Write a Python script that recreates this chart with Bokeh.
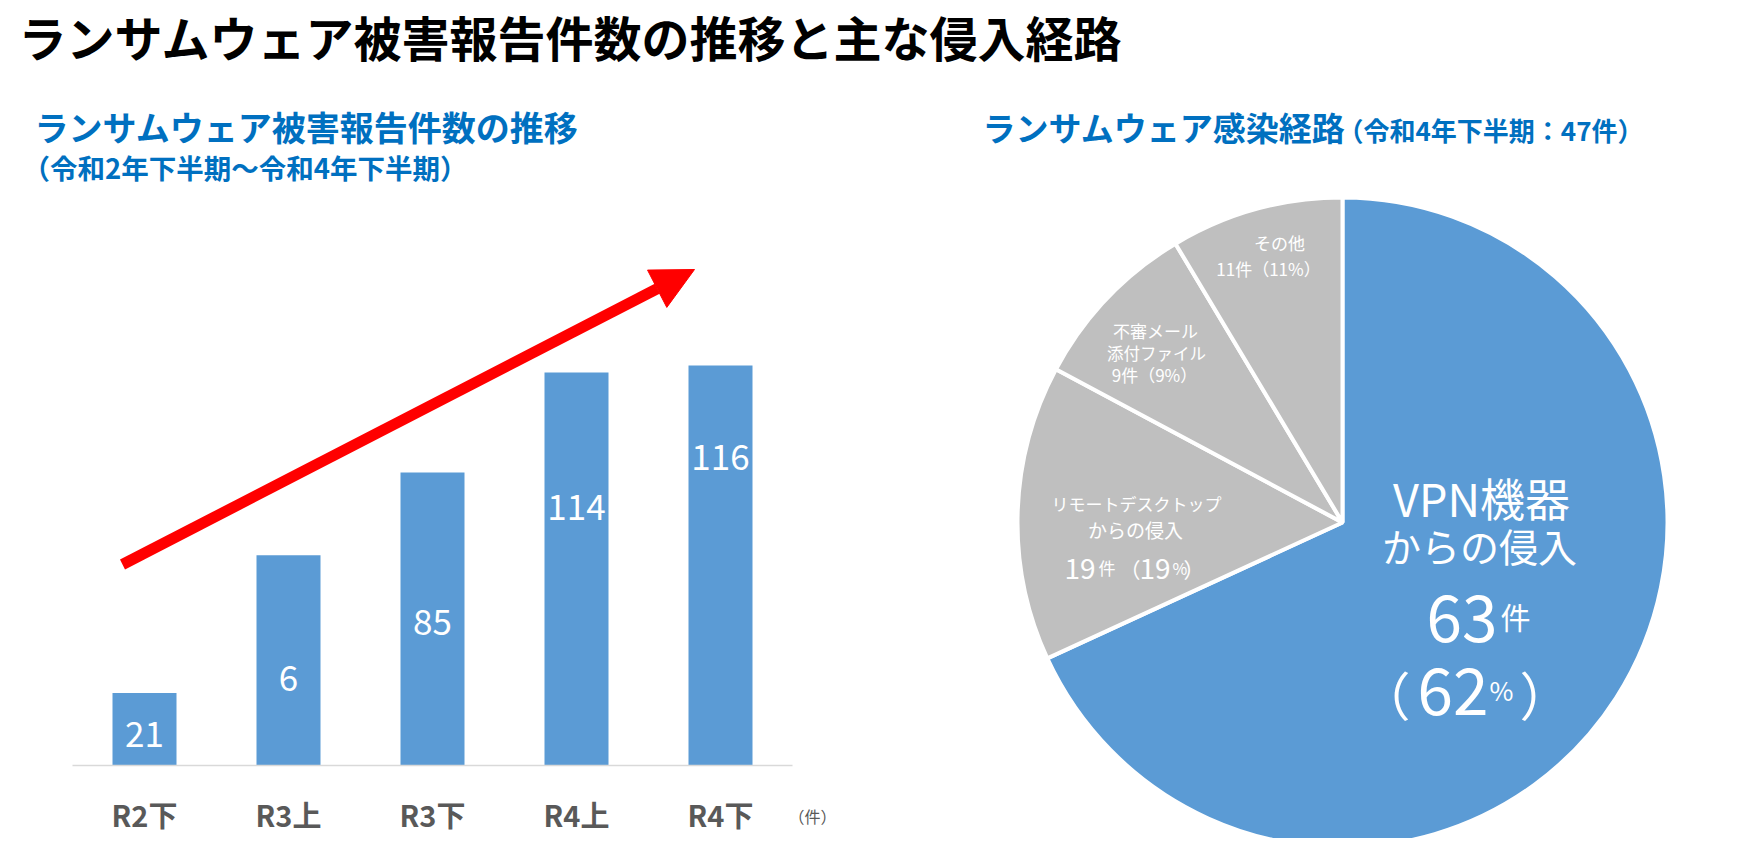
from bokeh.plotting import figure
from bokeh.models import ColumnDataSource, Range1d, Arrow, NormalHead, FixedTicker, LinearAxis
from bokeh.embed import file_html
from bokeh.resources import INLINE
from bokeh.core.properties import value
import numpy as np

# ---------------- data ----------------
main_title = "ランサムウェア被害報告件数の推移と主な侵入経路"
bar_title = "ランサムウェア被害報告件数の推移"
bar_subtitle = "（令和2年下半期～令和4年下半期）"
pie_title = "ランサムウェア感染経路"
pie_subtitle = "（令和4年下半期：47件）"

periods = ["R2下", "R3上", "R3下", "R4上", "R4下"]
reports = [21, 61, 85, 114, 116]
report_labels = ["21", "6", "85", "114", "116"]
unit_label = "（件）"

routes = ["VPN機器からの侵入", "リモートデスクトップからの侵入", "不審メール添付ファイル", "その他"]
route_counts = [63, 19, 9, 11]
route_pcts = [62, 19, 9, 11]
slice_share = [68.2, 14.7, 8.6, 8.6]   # slice sizes as drawn in the picture
slice_colors = ["#5B9BD5", "#BFBFBF", "#BFBFBF", "#BFBFBF"]

# ---------------- layout constants ----------------
FONT = "Noto Sans CJK JP"
BLUE_T = "#0070C0"
W, H = 1738, 838
M = 8  # page margin

def X(sx):          # screenshot x -> canvas data x
    return sx - M

def Y(sy):          # screenshot y -> canvas data y (upwards)
    return (H + M) - sy

p = figure(width=W, height=H, x_range=Range1d(0, W), y_range=Range1d(0, H),
           min_border=0, x_axis_type=None, y_axis_type=None,
           output_backend="svg", toolbar_location=None)
p.grid.visible = False
p.outline_line_color = None
p.background_fill_color = "white"
p.border_fill_color = "white"

def txt(t, sx, sy, size, color="white", align="left", base="middle", bold=False):
    p.text(x=[X(sx)], y=[Y(sy)], text=[t], text_font=value(FONT),
           text_font_size=f"{size}px", text_align=align, text_baseline=base,
           text_color=color, text_font_style="bold" if bold else "normal")

# titles
txt(main_title, 26, 43, 48, color="#000000", bold=True)
txt(bar_title, 42, 134, 34, color=BLUE_T, bold=True)
txt(bar_subtitle, 30, 174, 27.5, color=BLUE_T, bold=True)
txt(pie_title, 990, 134, 33, color=BLUE_T, bold=True)
txt(pie_subtitle, 1345, 137, 26, color=BLUE_T, bold=True)

# ---------------- bar chart (own scales) ----------------
PX_CAT = 144.0      # pixels per category
PX_VAL = 3.448      # pixels per report
cat0 = X(152)       # canvas x of first category centre
base = Y(773)       # canvas y of baseline
p.extra_x_ranges = {"cat": Range1d(-cat0 / PX_CAT, (W - cat0) / PX_CAT)}
p.extra_y_ranges = {"val": Range1d(-base / PX_VAL, (H - base) / PX_VAL)}

idx = list(range(len(periods)))
src = ColumnDataSource(dict(x=idx, top=reports, lab=report_labels,
                            ly=[9.0, 25.5, 41.5, 75.0, 89.5]))
p.vbar(x="x", top="top", bottom=0, width=64 / PX_CAT, source=src,
       fill_color="#5B9BD5", line_color=None,
       x_range_name="cat", y_range_name="val")
p.text(x="x", y="ly", text="lab", source=src, text_color="white",
       text_font=value(FONT), text_font_size="35px", text_align="center",
       text_baseline="middle", x_range_name="cat", y_range_name="val")

ax = LinearAxis(x_range_name="cat", y_range_name="val", fixed_location=0)
ax.ticker = FixedTicker(ticks=idx)
ax.major_label_overrides = {i: periods[i] for i in idx}
ax.bounds = (-0.5, len(periods) - 0.5)
ax.axis_line_color = "#D9D9D9"
ax.axis_line_width = 1.5
ax.major_tick_line_color = None
ax.minor_tick_line_color = None
ax.major_label_text_font = FONT
ax.major_label_text_font_size = "29px"
ax.major_label_text_font_style = "bold"
ax.major_label_text_color = "#595959"
ax.major_label_standoff = 21
p.add_layout(ax, "below")

txt(unit_label, 796, 823, 16, color="#595959")

def cx(sx):
    return (X(sx) - cat0) / PX_CAT

def vy(sy):
    return (Y(sy) - base) / PX_VAL

p.add_layout(Arrow(end=NormalHead(size=42, fill_color="#FF0000", line_color="#FF0000"),
                   x_start=cx(130), y_start=vy(572), x_end=cx(702), y_end=vy(277),
                   x_range_name="cat", y_range_name="val",
                   line_color="#FF0000", line_width=11))

# ---------------- pie chart ----------------
pcx, pcy, R = X(1350), Y(530), 325
share = np.array(slice_share) / np.sum(slice_share)
cum = np.concatenate([[0.0], np.cumsum(share)])
psrc = ColumnDataSource(dict(
    start=np.pi / 2 - cum[:-1] * 2 * np.pi,
    end=np.pi / 2 - cum[1:] * 2 * np.pi,
    color=slice_colors, name=routes))
p.wedge(x=pcx, y=pcy, radius=R, start_angle="start", end_angle="end",
        direction="clock", fill_color="color", line_color="white",
        line_width=4, source=psrc)

# VPN slice
txt("VPN機器", 1489, 505, 45, align="center")
txt("からの侵入", 1487, 552, 39, align="center")
txt(str(route_counts[0]), 1505, 626, 64, align="right", base="alphabetic")
txt("件", 1508, 623, 30, base="alphabetic")
txt("（", 1418, 701, 52, align="right", base="alphabetic")
txt(str(route_pcts[0]), 1425, 699, 64, base="alphabetic")
txt("%", 1497, 697, 26, base="alphabetic")
txt("）", 1527, 701, 52, base="alphabetic")

# remote desktop slice
txt("リモートデスクトップ", 1144, 511, 17, align="center")
txt("からの侵入", 1143, 537, 19, align="center")
txt(str(route_counts[1]), 1072, 576, 28, base="alphabetic")
txt("件", 1106, 575, 17, base="alphabetic")
txt("（", 1148, 576, 21, align="right", base="alphabetic")
txt(str(route_pcts[1]), 1147, 576, 28, base="alphabetic")
txt("%", 1180, 575, 16, base="alphabetic")
txt("）", 1191, 576, 21, base="alphabetic")

# mail slice
txt("不審メール", 1163, 338, 17, align="center")
txt("添付ファイル", 1164, 360, 16.5, align="center")
txt(f"{route_counts[2]}件（{route_pcts[2]}%）", 1162, 382, 17, align="center")

# other slice
txt("その他", 1287, 250, 17, align="center")
txt(f"{route_counts[3]}件（{route_pcts[3]}%）", 1276, 276, 17, align="center")

open("out.html", "w").write(file_html(p, INLINE))
